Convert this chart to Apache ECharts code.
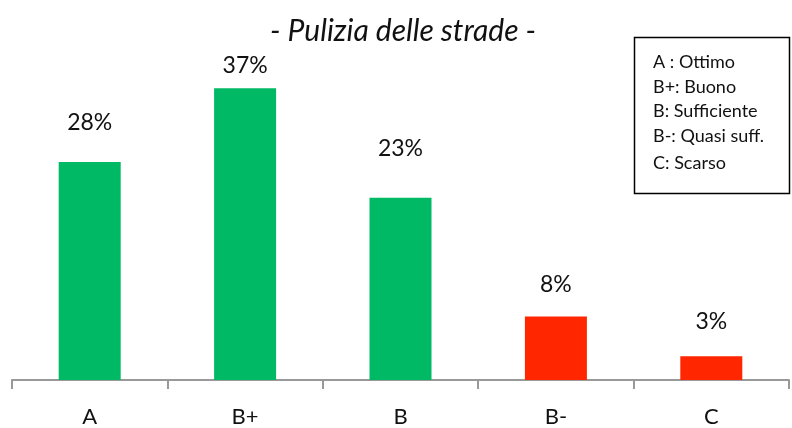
<!DOCTYPE html>
<html>
<head>
<meta charset="utf-8">
<script src="https://cdn.jsdelivr.net/npm/echarts@6/dist/echarts.min.js"></script>
<style>
  html, body { margin: 0; padding: 0; background: #fff; }
  #chart { width: 792px; height: 428px; }
</style>
</head>
<body>
<div id="chart"></div>
<script>
const categories = ['A', 'B+', 'B', 'B-', 'C']
const values = [27.5, 36.8, 23, 8, 3]
const valueLabels = ['28%', '37%', '23%', '8%', '3%']
const legendLines = ['A : Ottimo', 'B+: Buono', 'B: Sufficiente', 'B-: Quasi suff.', 'C: Scarso']

// colori e distanze etichette (come nel grafico originale)
const barColors = ['#00B964', '#00B964', '#00B964', '#FF2600', '#FF2600']
const labelGap = [28, 11, 38, 21, 23]
const legendY = [62, 87, 111, 136, 163]

const font = 'Lato, "Open Sans", sans-serif'

const chart = echarts.init(document.getElementById('chart'))
const option = {
  animation: false,
  title: {
    text: '- Pulizia delle strade -',
    left: 398,
    top: 11,
    textAlign: 'center',
    textStyle: { fontFamily: font, fontStyle: 'italic', fontWeight: 'normal', fontSize: 30, color: '#111' }
  },
  grid: { left: 12, right: 3, top: 63, bottom: 45 },
  xAxis: {
    type: 'category',
    data: categories,
    axisLine: { lineStyle: { color: '#999', width: 2 } },
    axisTick: { show: true, length: 9, lineStyle: { color: '#999', width: 2 } },
    axisLabel: { fontFamily: font, fontSize: 22, color: '#111', margin: 26 }
  },
  yAxis: { type: 'value', min: 0, max: 40, show: false, splitLine: { show: false } },
  series: [{
    type: 'bar',
    barWidth: 62,
    data: values.map((v, i) => ({
      value: v,
      itemStyle: { color: barColors[i] },
      label: { distance: labelGap[i] }
    })),
    label: {
      show: true,
      position: 'top',
      fontFamily: font,
      fontSize: 23,
      color: '#111',
      formatter: (p) => valueLabels[p.dataIndex]
    }
  }],
  graphic: [
    {
      type: 'rect',
      shape: { x: 634.5, y: 37.5, width: 155, height: 156 },
      style: { fill: '#fff', stroke: '#000', lineWidth: 1.5 }
    }
  ].concat(legendLines.map((t, i) => ({
    type: 'text',
    x: 653,
    y: legendY[i],
    style: { text: t, fontFamily: font, fontSize: 18, fill: '#111', verticalAlign: 'middle' }
  })))
}
chart.setOption(option)
</script>
</body>
</html>
